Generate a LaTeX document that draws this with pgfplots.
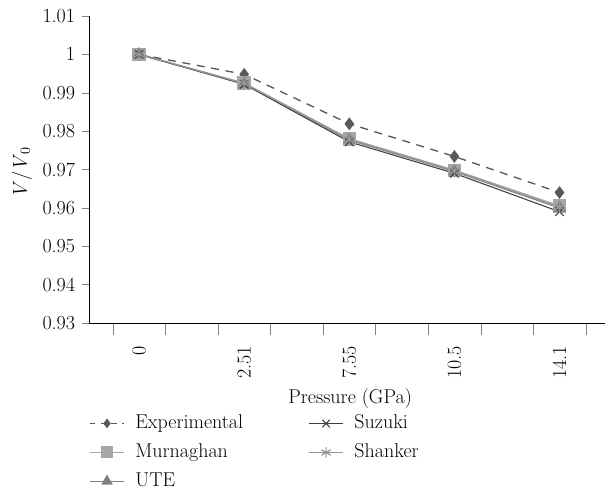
\documentclass[border=0pt]{standalone}
\usepackage{pgfplots}
\pgfplotsset{compat=1.18}

\definecolor{cExp}{HTML}{595959}
\definecolor{cMur}{HTML}{A6A6A6}
\definecolor{cUte}{HTML}{7F7F7F}
\definecolor{cSuz}{HTML}{404040}
\definecolor{cSha}{HTML}{969696}

\begin{document}
\fontsize{15}{18}\selectfont
\begin{tikzpicture}
\path[use as bounding box] (-66.75pt,-126.75pt) rectangle (388.5pt,242.25pt);
\begin{axis}[
  scale only axis,
  width=387pt, height=230.25pt,
  xmin=-0.477, xmax=4.433,
  ymin=0.93, ymax=1.01,
  axis lines*=left,
  tick align=outside,
  major tick length=5.25pt,
  xtick={-0.25,0.25,0.75,1.25,1.75,2.25,2.75,3.25,3.75,4.25},
  x tick label as interval,
  xticklabels={0,{},2.51,{},7.55,{},10.5,{},14.1},
  xtick style={/pgfplots/major tick length=9pt},
  xticklabel style={rotate=90, anchor=east},
  xticklabel shift=7pt,
  ytick={0.93,0.94,0.95,0.96,0.97,0.98,0.99,1,1.01},
  yticklabel style={/pgf/number format/fixed, /pgf/number format/precision=2},
  /pgf/number format/assume math mode=true,
  xlabel={Pressure (GPa)},
  xlabel style={at={(axis description cs:0.506,-0.245)}, anchor=center},
  ylabel={\textit{V}/\textit{V}\textsubscript{0}},
  ylabel style={at={(axis description cs:-0.130,0.49)}, anchor=center},
  legend columns=2,
  legend cell align=left,
  legend style={at={(axis description cs:0,-0.29)}, anchor=north west,
    draw=none, fill=none, inner sep=0pt, row sep=5pt,
    /tikz/every odd column/.append style={column sep=6pt},
    /tikz/every even column/.append style={column sep=47pt}},
  legend image code/.code={%
    \draw[mark repeat=2,mark phase=2] plot coordinates {(0cm,0cm) (0.45cm,0cm) (0.9cm,0cm)};},
]
\addplot[forget plot, color=cExp, line width=1pt, dash pattern=on 6pt off 5pt,
  mark=diamond*, mark size=4pt, mark options={solid}] coordinates {
  (0,1.0000) (1,0.9948) (2,0.9819) (3,0.9734) (4,0.9640)
};
\addplot[forget plot, color=cMur, line width=1.1pt,
  mark=square*, mark size=4.5pt] coordinates {
  (0,1.0000) (1,0.9925) (2,0.9780) (3,0.9698) (4,0.9605)
};
\addplot[forget plot, color=cUte, line width=1.1pt,
  mark=triangle*, mark size=4.5pt] coordinates {
  (0,1.0000) (1,0.9923) (2,0.9777) (3,0.9695) (4,0.9600)
};
\addplot[forget plot, color=cSuz, line width=0.8pt,
  mark=x, mark size=4.5pt] coordinates {
  (0,1.0000) (1,0.9922) (2,0.9772) (3,0.9690) (4,0.9590)
};
\addplot[forget plot, color=cSha, line width=0.9pt,
  mark=asterisk, mark size=4.5pt] coordinates {
  (0,1.0000) (1,0.9924) (2,0.9778) (3,0.9696) (4,0.9602)
};
\addlegendimage{color=cExp, line width=0.8pt, dash pattern=on 4pt off 4pt, mark=diamond*, mark size=3pt, mark options={solid}}
\addlegendentry{Experimental}
\addlegendimage{color=cSuz, line width=0.8pt, mark=x, mark size=4pt}
\addlegendentry{Suzuki}
\addlegendimage{color=cMur, line width=1pt, mark=square*, mark size=4pt}
\addlegendentry{Murnaghan}
\addlegendimage{color=cSha, line width=0.9pt, mark=asterisk, mark size=4pt}
\addlegendentry{Shanker}
\addlegendimage{color=cUte, line width=1pt, mark=triangle*, mark size=4pt}
\addlegendentry{UTE}
\end{axis}
\end{tikzpicture}
\end{document}
